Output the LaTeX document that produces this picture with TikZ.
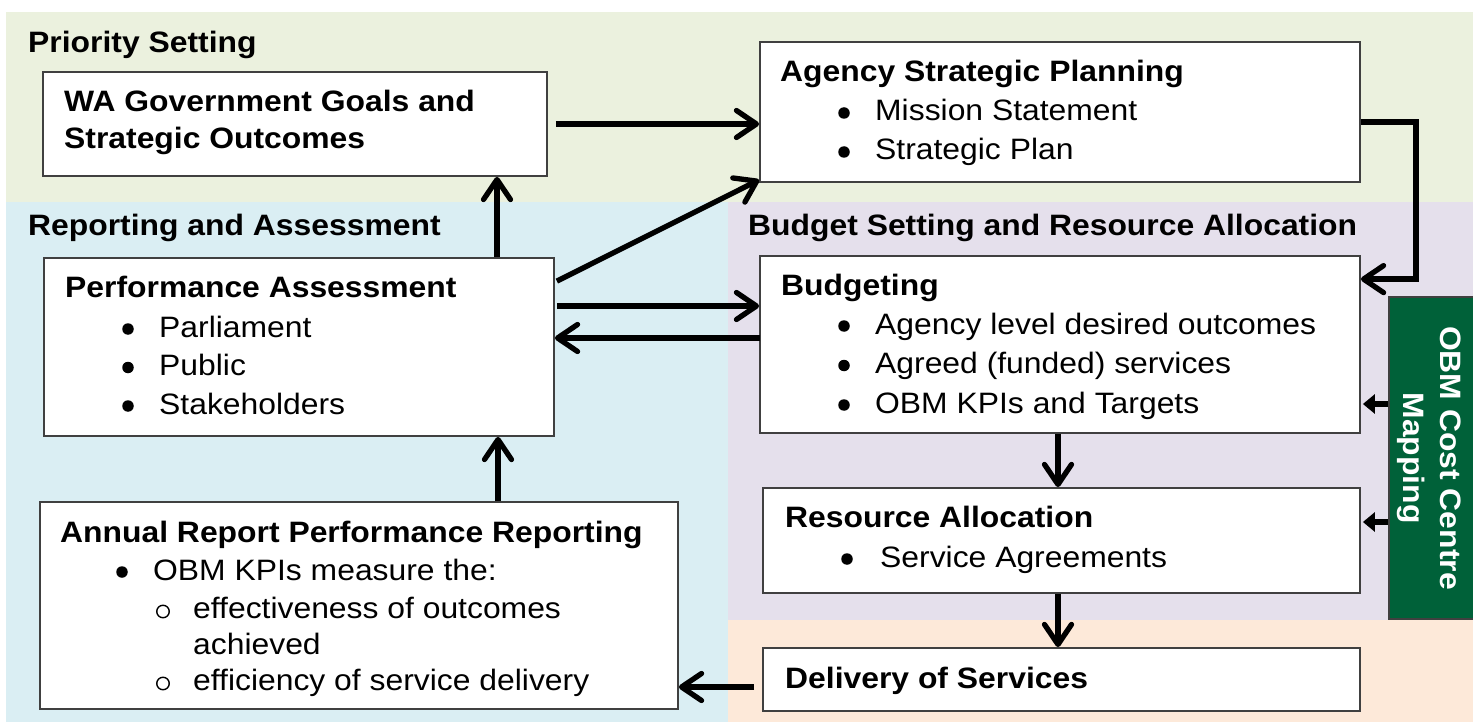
\documentclass[tikz,border=0pt]{standalone}
\usepackage{fontspec}
\setmainfont{Liberation Sans}[FakeStretch=1.08]
\usetikzlibrary{arrows.meta}
\definecolor{bggreen}{HTML}{EBF1DE}
\definecolor{bgblue}{HTML}{DAEEF3}
\definecolor{bgpurple}{HTML}{E5E0EC}
\definecolor{bgpeach}{HTML}{FDE9D9}
\definecolor{obmgreen}{HTML}{006139}
\definecolor{boxgray}{HTML}{404040}
\newcommand{\bfnt}{\fontsize{29.5}{37}\selectfont}
\tikzset{
  box/.style={draw=boxgray, line width=1.8pt, fill=white, inner sep=0pt, rectangle},
  txt/.style={anchor=base west, inner sep=0pt, font=\bfnt},
  hd/.style={anchor=base west, inner sep=0pt, font=\bfnt\bfseries},
  bul/.style={circle, fill=black, inner sep=0pt, minimum size=11.5pt, yshift=8pt},
  subbul/.style={circle, draw=black, line width=1.4pt, inner sep=0pt, minimum size=12.5pt, yshift=6.5pt},
  arr/.style={line width=5.3pt, -{Straight Barb[length=20pt,width=27pt,round]}},
  sarr/.style={line width=5.5pt, -{Triangle[length=12pt,width=19pt]}},
}
\begin{document}
\begin{tikzpicture}[x=1pt,y=-1pt]
\useasboundingbox (0,0) rectangle (1473,722);
% background bands
\fill[bggreen] (6,12) rectangle (1473,202);
\fill[bgblue] (6,202) rectangle (728,722);
\fill[bgpurple] (728,202) rectangle (1473,620);
\fill[bgpeach] (728,620) rectangle (1473,722);
% section labels
\node[hd] (lps) at (28,53) {Priority Setting};
\node[hd] (lra) at (28,236) {Reporting and Assessment};
\node[hd] (lbs) at (748,236) {Budget Setting and Resource Allocation};
% boxes
\node[box, minimum width=504pt, minimum height=104pt] (wa) at (295,124) {};
\node[box, minimum width=600pt, minimum height=140pt] (asp) at (1060,112) {};
\node[box, minimum width=510pt, minimum height=178pt] (perf) at (299,347) {};
\node[box, minimum width=600pt, minimum height=177pt] (budg) at (1060,344.5) {};
\node[box, minimum width=597pt, minimum height=105pt] (res) at (1061.5,540.5) {};
\node[box, minimum width=597pt, minimum height=63pt] (deliv) at (1061.5,679.5) {};
\node[box, minimum width=638pt, minimum height=207pt] (annual) at (359,605.5) {};
\node[draw=boxgray, line width=1.5pt, fill=obmgreen, inner sep=0pt, minimum width=86pt, minimum height=322pt] (obm) at (1432,458) {};
\node[rotate=-90, text=white, font=\bfnt\bfseries, align=center, inner sep=0pt] (obmtxt) at (1429,458) {OBM Cost Centre\\Mapping};
% WA text
\node[hd] (wa1) at (64,112) {WA Government Goals and};
\node[hd] (wa2) at (64,149) {Strategic Outcomes};
% Agency strategic planning
\node[hd] (asp0) at (780,82) {Agency Strategic Planning};
\node[bul] (aspb1) at (844,121) {};
\node[txt] (asp1) at (875,121) {Mission Statement};
\node[bul] (aspb2) at (844,160) {};
\node[txt] (asp2) at (875,160) {Strategic Plan};
% Performance assessment
\node[hd] (perf0) at (65,298) {Performance Assessment};
\node[bul] (perfb1) at (128,337) {};
\node[txt] (perf1) at (159,337) {Parliament};
\node[bul] (perfb2) at (128,375.5) {};
\node[txt] (perf2) at (159,375.5) {Public};
\node[bul] (perfb3) at (128,414) {};
\node[txt] (perf3) at (159,414) {Stakeholders};
% Budgeting
\node[hd] (budg0) at (781,295) {Budgeting};
\node[bul] (budgb1) at (844,334) {};
\node[txt] (budg1) at (875,334) {Agency level desired outcomes};
\node[bul] (budgb2) at (844,373.5) {};
\node[txt] (budg2) at (875,373.5) {Agreed (funded) services};
\node[bul] (budgb3) at (844,413) {};
\node[txt] (budg3) at (875,413) {OBM KPIs and Targets};
% Resource allocation
\node[hd] (res0) at (785,527) {Resource Allocation};
\node[bul] (resb1) at (847,567) {};
\node[txt] (res1) at (880,567) {Service Agreements};
% Delivery
\node[hd] (deliv0) at (785,688) {Delivery of Services};
% Annual report
\node[hd] (ann0) at (60,542) {Annual Report Performance Reporting};
\node[bul] (annb1) at (122,580) {};
\node[txt] (ann1) at (153,580) {OBM KPIs measure the:};
\node[subbul] (anno1) at (163,618) {};
\node[txt] (ann2) at (193,618) {effectiveness of outcomes};
\node[txt] (ann3) at (193,654) {achieved};
\node[subbul] (anno2) at (163,690) {};
\node[txt] (ann4) at (193,690) {efficiency of service delivery};
% connectors
\draw[arr, shorten <=8pt] (wa.east) -- (wa.east -| asp.west);
\draw[arr] ([shift={(2,24)}]perf.north east) -- ([shift={(0,-3)}]asp.south west);
\coordinate (p1) at ([yshift=41pt]perf.east);
\draw[arr, shorten <=2pt] (p1) -- (p1 -| budg.west);
\coordinate (b1) at ([yshift=6.5pt]budg.west);
\draw[arr, shorten <=-1pt] (b1) -- (b1 -| perf.east);
\coordinate (a1) at ([yshift=-10pt]asp.east);
\coordinate (b2) at ([yshift=-24pt]budg.north east);
\draw[arr] (a1) -| ([xshift=55pt]b2) -- (b2);
\coordinate (d0) at ([xshift=-2pt]budg.south);
\draw[arr] (d0) -- (d0 |- res.north);
\coordinate (d2) at ([xshift=-3.5pt]res.south);
\draw[arr] (d2) -- (d2 |- deliv.north);
\coordinate (d1) at ([yshift=-7.5pt]deliv.west);
\draw[arr, shorten <=8pt] (d1) -- (d1 -| annual.east);
\coordinate (u1) at ([xshift=139pt]annual.north);
\draw[arr] (u1) -- (u1 |- perf.south);
\coordinate (u2) at ([xshift=198pt]perf.north);
\draw[arr] (u2) -- (u2 |- wa.south);
\coordinate (o1) at ([yshift=54pt]obm.west);
\draw[sarr, shorten >=2pt] (o1) -- (o1 -| budg.east);
\coordinate (o2) at ([yshift=-64pt]obm.west);
\draw[sarr, shorten >=2pt] (o2) -- (o2 -| res.east);
\end{tikzpicture}
\end{document}
